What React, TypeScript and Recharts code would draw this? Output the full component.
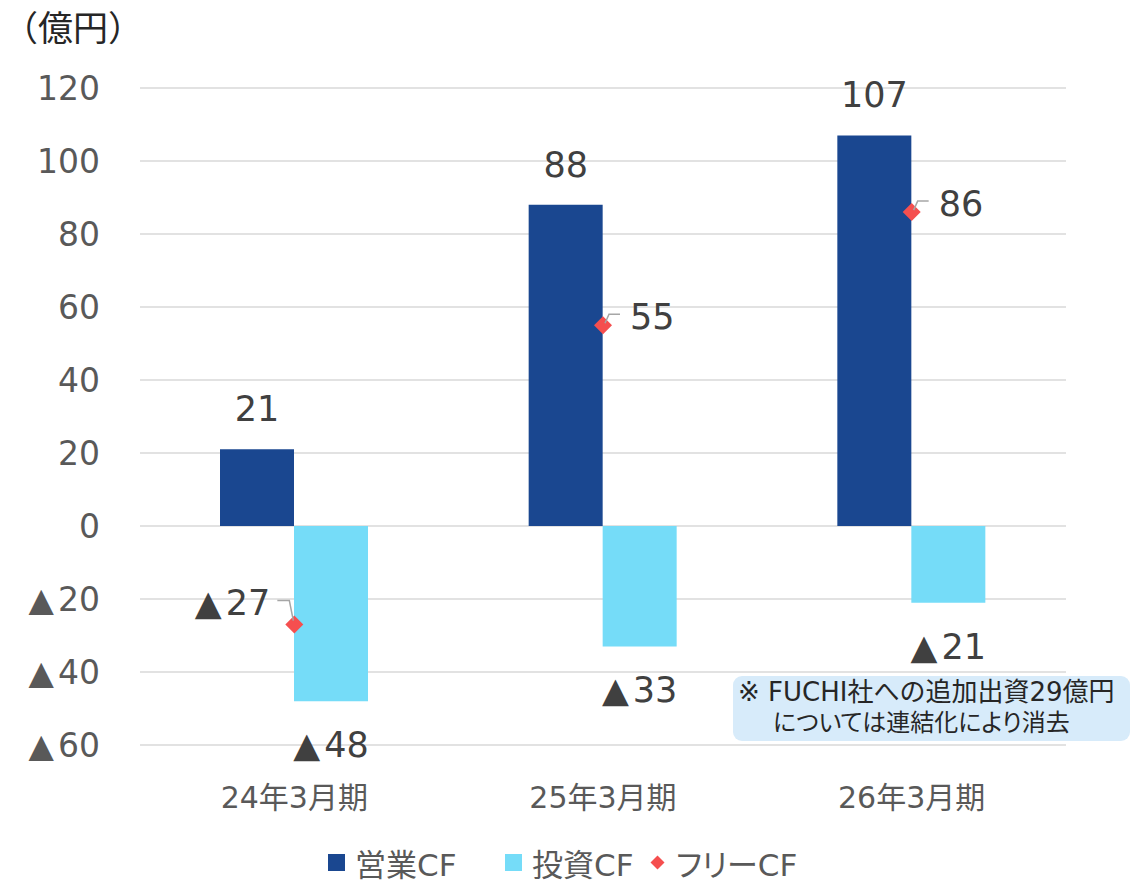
import React from 'react';
import { ComposedChart, Bar, Line, XAxis, YAxis, CartesianGrid, LabelList } from 'recharts';

const categories = ['24年3月期', '25年3月期', '26年3月期'];
const operatingCF = [21, 88, 107];
const investingCF = [-48, -33, -21];
const freeCF = [-27, 55, 86];
const yTicks = [-60, -40, -20, 0, 20, 40, 60, 80, 100, 120];
const legendNames = ['営業CF', '投資CF', 'フリーCF'];
const unitLabel = '（億円）';
const noteLines = ['※ FUCHI社への追加出資29億円', 'については連結化により消去'];

const data = categories.map((c, i) => ({
  name: c,
  op: operatingCF[i],
  inv: investingCF[i],
  free: freeCF[i],
}));

const FONT = '"DejaVu Sans", "Noto Sans CJK JP", sans-serif';
const CJK = '"Noto Sans CJK JP", sans-serif';
const DARK = '#1a4790';
const LIGHT = '#75dcf8';
const RED = '#f54f4f';
const TXT = '#404040';

const renderVal = (v: number) =>
  v < 0
    ? [<tspan key="t">▲</tspan>, <tspan key="n" dx={4}>{String(Math.abs(v))}</tspan>]
    : String(v);

const BarLabel = (props: any) => {
  const { x, y, width, height, value } = props;
  const cx = x + width / 2;
  const neg = value < 0;
  const bottom = y + height;
  const ty = neg ? Math.max(y, bottom) + 56 : Math.min(y, bottom) - 28;
  return (
    <text x={cx} y={ty} textAnchor="middle" fontSize={35} fill={TXT} fontFamily={FONT}>
      {renderVal(value)}
    </text>
  );
};

const FreeLabel = (props: any) => {
  const { x, y, value } = props;
  if (value < 0) {
    return (
      <g>
        <polyline points={`${x - 17},${y - 24} ${x - 5},${y - 24} ${x - 1},${y - 4}`} fill="none" stroke="#a6a6a6" strokeWidth={1.5} />
        <text x={x - 24} y={y - 10} textAnchor="end" fontSize={35} fill={TXT} fontFamily={FONT}>
          {renderVal(value)}
        </text>
      </g>
    );
  }
  return (
    <g>
      <polyline points={`${x + 2},${y - 2} ${x + 6},${y - 11} ${x + 17},${y - 11}`} fill="none" stroke="#a6a6a6" strokeWidth={1.5} />
      <text x={x + 27} y={y + 4} textAnchor="start" fontSize={35} fill={TXT} fontFamily={FONT}>
        {renderVal(value)}
      </text>
    </g>
  );
};

const Diamond = (props: any) => {
  const { cx, cy } = props;
  if (cx == null || cy == null) return null;
  const r = 9;
  return <polygon points={`${cx},${cy - r} ${cx + r},${cy} ${cx},${cy + r} ${cx - r},${cy}`} fill={RED} />;
};

const YTick = (props: any) => {
  const { x, y, payload } = props;
  return (
    <text x={x} y={y + 12} textAnchor="end" fontSize={33} fill="#595959" fontFamily={FONT}>
      {renderVal(payload.value)}
    </text>
  );
};

const XTick = (props: any) => {
  const { x, y, payload } = props;
  return (
    <text x={x} y={y + 55} textAnchor="middle" fontSize={30} fill="#595959" fontFamily={FONT}>
      {payload.value}
    </text>
  );
};

const legendItems = [
  { name: legendNames[0], color: DARK, shape: 'square', left: 328 },
  { name: legendNames[1], color: LIGHT, shape: 'square', left: 505 },
  { name: legendNames[2], color: RED, shape: 'diamond', left: 649 },
];

export default function App() {
  return (
    <div style={{ position: 'absolute', left: 0, top: 0, width: 1132, height: 881, background: '#fff', fontFamily: FONT }}>
      <div style={{ position: 'absolute', left: 3, top: 4, fontSize: 35, color: '#262626', lineHeight: '44px', fontFamily: CJK }}>{unitLabel}</div>
      <ComposedChart
        width={1132}
        height={881}
        data={data}
        margin={{ top: 88, right: 66, bottom: 0, left: 0 }}
        barGap={0}
      >
        <CartesianGrid vertical={false} stroke="#d9d9d9" strokeWidth={1.5} />
        <XAxis dataKey="name" axisLine={false} tickLine={false} height={136} tick={<XTick />} />
        <YAxis
          domain={[-60, 120]}
          ticks={yTicks}
          width={140}
          axisLine={false}
          tickLine={false}
          tickSize={0}
          tickMargin={40}
          tick={<YTick />}
          interval={0}
        />
        <Bar dataKey="op" fill={DARK} barSize={74} isAnimationActive={false}>
          <LabelList dataKey="op" content={<BarLabel />} />
        </Bar>
        <Bar dataKey="inv" fill={LIGHT} barSize={74} isAnimationActive={false}>
          <LabelList dataKey="inv" content={<BarLabel />} />
        </Bar>
        <Line dataKey="free" stroke="none" dot={<Diamond />} activeDot={false} isAnimationActive={false}>
          <LabelList dataKey="free" content={<FreeLabel />} />
        </Line>
      </ComposedChart>
      <div
        style={{
          position: 'absolute',
          left: 733,
          top: 676,
          width: 397,
          height: 65,
          borderRadius: 9,
          background: '#d7ebfa',
          color: '#262626',
          lineHeight: '31px',
          boxSizing: 'border-box',
          paddingTop: 1,
        }}
      >
        <div style={{ paddingLeft: 5, whiteSpace: 'nowrap', fontSize: 26 }}>{noteLines[0]}</div>
        <div style={{ paddingLeft: 40, whiteSpace: 'nowrap', fontSize: 24, fontFeatureSettings: '"palt"' }}>{noteLines[1]}</div>
      </div>
      {legendItems.map((it) => (
        <div
          key={it.name}
          style={{
            position: 'absolute',
            left: it.left,
            top: 840,
            height: 44,
            display: 'flex',
            alignItems: 'center',
            fontSize: 31,
            color: '#595959',
            whiteSpace: 'nowrap',
            fontFeatureSettings: '"palt"',
          }}
        >
          {it.shape === 'square' ? (
            <span style={{ width: 17, height: 17, background: it.color, display: 'inline-block', marginRight: 10 }} />
          ) : (
            <svg width={17} height={17} style={{ marginRight: 10 }}>
              <polygon points="8.5,1.5 15.5,8.5 8.5,15.5 1.5,8.5" fill={it.color} />
            </svg>
          )}
          <span>{it.name}</span>
        </div>
      ))}
    </div>
  );
}
